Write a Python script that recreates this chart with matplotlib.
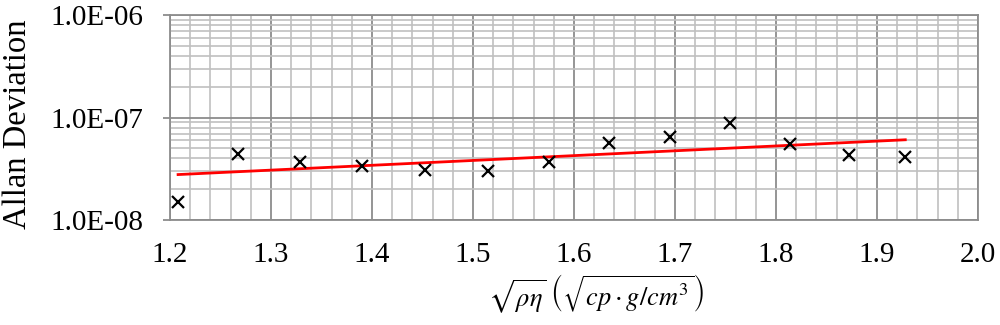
import matplotlib
matplotlib.use("Agg")
import matplotlib.pyplot as plt
from matplotlib.ticker import FixedLocator, FuncFormatter, LogLocator, MultipleLocator, NullFormatter

# Data
x_vals = [1.208, 1.267, 1.329, 1.390, 1.452, 1.515, 1.575, 1.635, 1.695, 1.754, 1.814, 1.872, 1.928]
y_vals = [1.50e-8, 4.43e-8, 3.65e-8, 3.39e-8, 3.07e-8, 2.98e-8, 3.65e-8, 5.69e-8, 6.52e-8, 8.87e-8, 5.56e-8, 4.31e-8, 4.15e-8]
trend_x = [1.208, 1.928]
trend_y = [2.78e-8, 6.08e-8]
x_ticks = [1.2, 1.3, 1.4, 1.5, 1.6, 1.7, 1.8, 1.9, 2.0]
y_ticks = [1e-8, 1e-7, 1e-6]
y_tick_labels = ["1.0E-08", "1.0E-07", "1.0E-06"]

plt.rcParams['mathtext.fontset'] = 'stix'
plt.rcParams['font.family'] = ['Liberation Serif', 'DejaVu Serif']

fig = plt.figure(figsize=(10, 3.25), dpi=100)
ax = fig.add_axes([0.170, 0.323, 0.808, 0.630])

ax.set_yscale('log')
ax.set_xlim(1.2, 2.0)
ax.set_ylim(1e-8, 1e-6)

ax.xaxis.set_major_locator(FixedLocator(x_ticks))
ax.xaxis.set_minor_locator(MultipleLocator(0.02))
ax.xaxis.set_major_formatter(FuncFormatter(lambda v, p: f"{v:.1f}"))
ax.yaxis.set_major_locator(FixedLocator(y_ticks))
ax.yaxis.set_major_formatter(FuncFormatter(lambda v, p: y_tick_labels[y_ticks.index(min(y_ticks, key=lambda t: abs(t - v)))]))
ax.yaxis.set_minor_locator(LogLocator(base=10, subs=range(2, 10)))
ax.yaxis.set_minor_formatter(NullFormatter())

ax.grid(which='major', color='#8c8c8c', linewidth=1.3)
ax.grid(which='minor', color='#c0c0c0', linewidth=1.2)
ax.set_axisbelow(True)
for s in ax.spines.values():
    s.set_color('#8c8c8c')
    s.set_linewidth(1.3)

ax.tick_params(axis='y', which='major', length=5, color='#8c8c8c', width=1.3, labelsize=21, pad=14)
ax.tick_params(axis='x', which='major', length=0, labelsize=21, pad=16)
ax.tick_params(axis='both', which='minor', length=0)

ax.plot(trend_x, trend_y, color='#ff0000', linewidth=2, zorder=3)
ax.plot(x_vals, y_vals, linestyle='none', marker='x', markersize=8, markeredgewidth=1.6, color='black', zorder=4)

ax.set_ylabel('Allan Deviation', fontsize=23.5)
ax.yaxis.set_label_coords(-0.170, 0.466)
ax.set_xlabel(r'$\sqrt{\rho\eta}\;\left(\sqrt{cp\cdot g/cm^3}\right)$', fontsize=19)
ax.xaxis.set_label_coords(0.527, -0.255)

fig.savefig('out.png', dpi=100)
